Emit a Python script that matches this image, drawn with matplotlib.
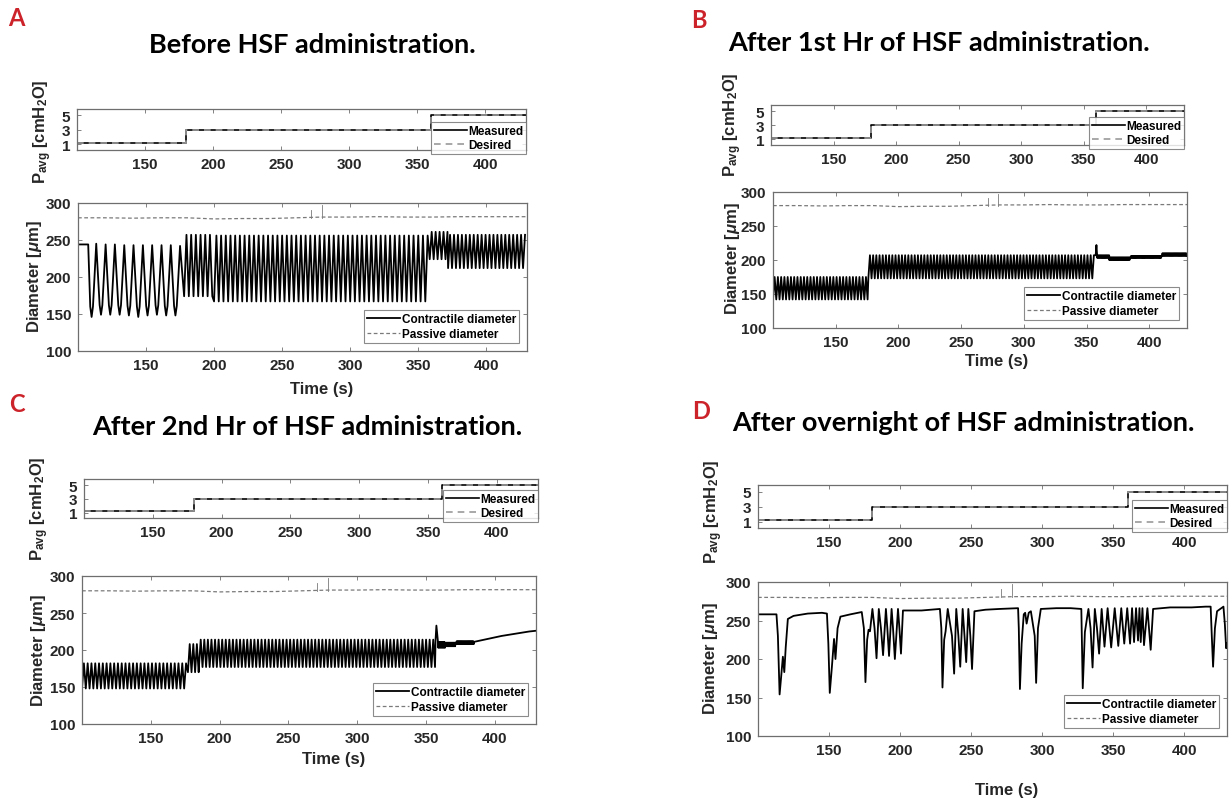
import numpy as np
import matplotlib
matplotlib.use("Agg")
import matplotlib.pyplot as plt

plt.rcParams['font.family'] = ['Liberation Sans', 'DejaVu Sans']
plt.rcParams['font.weight'] = 'bold'
plt.rcParams['mathtext.fontset'] = 'custom'
plt.rcParams['mathtext.rm'] = 'Liberation Sans:bold'
plt.rcParams['mathtext.it'] = 'Liberation Sans:bold:italic'
plt.rcParams['mathtext.bf'] = 'Liberation Sans:bold'

# ---------------- data ----------------
titles = ["Before HSF administration.", "After 1st Hr of HSF administration.",
          "After 2nd Hr of HSF administration.", "After overnight of HSF administration."]
letters = ["A", "B", "C", "D"]

# average pressure protocol (same in all panels)
p_time = [100, 180, 360, 430]
p_level = [1.2, 3, 5, 5]

# passive diameter (same in all panels)
passive_t = [100, 120, 140, 160, 180, 200, 220, 240, 260, 280, 300, 320, 340, 360, 380, 400, 430]
passive_v = [280, 280, 279.5, 280, 280, 278.5, 279, 279, 280, 281, 281, 281.5, 281, 281, 281.5, 281.5, 281.5]
spike_t = [271, 279]
spike_v = [291, 297]

# panel A: slow oscillations, then fast ones (start, end, period, trough, peak)
a_pre_t = [100, 107.5]
a_pre_v = [244, 244]
a_slow_t = [109.0, 110.0, 111.0, 113.4, 115.9, 116.9, 117.9, 120.3, 122.7, 123.7, 124.7, 127.1,
            129.6, 130.6, 131.6, 134.0, 136.4, 137.4, 138.4, 140.8, 143.3, 144.3, 145.3, 147.7,
            150.1, 151.1, 152.1, 154.5, 157.0, 158.0, 159.0, 161.4, 163.8, 164.8, 165.8, 168.2,
            170.6, 171.6, 172.6, 175.0]
a_slow_v = [160, 146, 160, 245, 162, 149, 162, 244, 162, 149, 162, 244, 162, 149, 162, 243,
            161, 148, 161, 243, 160, 146, 160, 243, 161, 148, 161, 243, 162, 149, 162, 243,
            161, 148, 161, 243, 161, 148, 161, 242]
a_segs = [(178, 200, 3.45, 174, 257), (200, 358, 3.45, 167, 256),
          (358.5, 372, 2.9, 224, 261), (372, 430, 2.9, 212, 257)]

# panel B
b_segs = [(100, 176, 2.6, 142, 175), (176, 357, 2.55, 173, 207),
          (358.5, 368, 0.9, 203, 207), (368, 385, 0.9, 200, 204),
          (385, 410, 0.9, 203, 206), (410, 430, 0.9, 206, 210)]
b_spike_t = [357.2, 357.8, 358.5]
b_spike_v = [207, 222, 204]

# panel C
c_segs = [(100, 177, 2.75, 148, 182), (177, 185, 2.6, 170, 208),
          (185, 357, 2.6, 177, 214), (359, 364, 0.8, 203, 211),
          (364, 372, 0.8, 205, 210), (372, 385, 0.8, 208, 212)]
c_spike_t = [357.0, 357.6, 359.0]
c_spike_v = [214, 233, 206]
c_tail_t = [385, 395, 405, 415, 425, 430]
c_tail_v = [211, 215, 219, 222, 225, 226]

# panel D: contractile diameter read vertex by vertex
d_t = [100, 113, 114, 115.2, 116.2, 117.5, 118.5, 119.5, 121, 125, 135, 145, 148.5, 149.5,
       150.5, 152, 153.5, 154.5, 156, 158, 165, 173, 174.5, 175.6, 176.8, 177.8, 178.8,
       180.5, 182, 183.4, 185, 186.5, 188, 190, 191, 192.2, 194, 195, 196.3, 198.5, 199.5,
       200.6, 202, 215, 228, 229, 229.8, 231, 232, 233.5, 236.5, 238, 239.5, 241, 242.3,
       244, 245.3, 246.5, 248, 249.4, 250.6, 252.3, 260, 270, 283, 283.5, 284.3, 285.5,
       287, 288, 289, 290.5, 292, 294.7, 295.7, 297, 299, 310, 320, 327.5, 328.5, 330,
       332.5, 334, 335.4, 337, 338.5, 340, 341.8, 343.8, 346, 348.5, 351, 353.5, 355.6,
       357.7, 359.8, 361.8, 363.2, 364.6, 366, 367.4, 368.4, 369.3, 370.5, 371.6, 374,
       376.3, 378, 390, 405, 415, 418.5, 419.3, 420.2, 421.5, 423, 426, 427.5, 428.5,
       429.4, 430]
d_v = [258, 258, 230, 154, 175, 203, 183, 215, 252, 256, 259, 260, 259, 220,
       156, 190, 226, 200, 240, 255, 258, 261, 240, 170, 225, 238, 236,
       265, 240, 201, 265, 240, 205, 265, 240, 204, 265, 240, 200, 265, 240,
       207, 263, 263, 265, 240, 163, 225, 236, 265, 230, 181, 265, 230, 190,
       265, 230, 196, 265, 230, 187, 262, 264, 265, 266, 240, 161, 220,
       258, 260, 246, 260, 262, 230, 169, 240, 265, 266, 266, 265, 162, 235,
       265, 240, 189, 265, 240, 207, 265, 216, 266, 215, 266, 217, 266,
       220, 266, 220, 266, 222, 266, 224, 266, 222, 266, 218, 266,
       212, 265, 267, 267, 268, 268, 230, 190, 240, 262, 266, 268, 245,
       214, 220]

# ---------------- helpers ----------------
def oscillation(segs):
    ts, vs = [], []
    for t0, t1, per, lo, hi in segs:
        t = np.arange(t0, t1, per / 2)
        v = np.where(np.arange(len(t)) % 2 == 0, lo, hi)
        ts.append(t)
        vs.append(v)
    return np.concatenate(ts), np.concatenate(vs)

W, H = 1231, 804
fig = plt.figure(figsize=(W / 100, H / 100), dpi=100)

def add_ax(l, t, r, b):
    return fig.add_axes([l / W, 1 - b / H, (r - l) / W, (b - t) / H])

def px_text(x, y, s, **kw):
    fig.text(x / W, 1 - y / H, s, **kw)

top_boxes = [(77, 110, 526, 151), (771, 106, 1184, 146), (84, 480, 538, 519), (758, 486, 1227, 529)]
bot_boxes = [(78, 204, 527, 352), (773, 193, 1187, 329), (82, 577, 536, 725), (758, 583, 1227, 737)]
title_xy = [(312, 45), (939, 43), (307, 427), (963, 423)]
letter_xy = [(16, 18), (699, 20), (17, 405), (701, 412)]
top_ylab_xy = [(43, 132), (733, 125), (40, 509), (714, 512)]
bot_ylab_xy = [(35, 277), (733, 259), (38, 651), (711, 659)]
xlab_xy = [(322, 390), (997, 362), (334, 760), (1007, 791)]

spine_c = '#6e6e6e'

def style(ax, yticks, ylim):
    ax.set_xlim(100, 430)
    ax.set_ylim(*ylim)
    ax.set_xticks(range(150, 401, 50))
    ax.set_yticks(yticks)
    ax.tick_params(direction='in', top=True, right=True, length=3, width=0.6,
                   color=spine_c, labelsize=11, labelcolor='#262626', pad=5)
    for s in ax.spines.values():
        s.set_color(spine_c)
        s.set_linewidth(0.9)

# contractile series per panel
cd_a_t, cd_a_v = oscillation(a_segs)
contr = [
    (np.concatenate([a_pre_t, a_slow_t, cd_a_t]), np.concatenate([a_pre_v, a_slow_v, cd_a_v])),
]
bt, bv = oscillation(b_segs)
cut = np.searchsorted(bt, 357)
contr.append((np.concatenate([bt[:cut], b_spike_t, bt[cut:]]),
              np.concatenate([bv[:cut], b_spike_v, bv[cut:]])))
ct, cv = oscillation(c_segs)
cut = np.searchsorted(ct, 357)
contr.append((np.concatenate([ct[:cut], c_spike_t, ct[cut:], c_tail_t]),
              np.concatenate([cv[:cut], c_spike_v, cv[cut:], c_tail_v])))
contr.append((np.array(d_t), np.array(d_v)))

for i in range(4):
    # top: pressure
    ax = add_ax(*top_boxes[i])
    ax.plot(p_time, p_level, drawstyle='steps-post', color='black', lw=1.2, label='Measured')
    ax.plot(p_time, p_level, drawstyle='steps-post', color='#9a9a9a', lw=1.2,
            ls=(0, (4, 3)), label='Desired')
    style(ax, [1, 3, 5], (0.2, 5.9))
    h_px = top_boxes[i][3] - top_boxes[i][1]
    leg = ax.legend(loc='lower right', bbox_to_anchor=(1, -4 / h_px), fontsize=8.5,
                    frameon=True, fancybox=False, borderpad=0.25, labelspacing=0.2,
                    handlelength=2.8, handletextpad=0.1, borderaxespad=0)
    leg.get_frame().set_edgecolor(spine_c)
    leg.get_frame().set_linewidth(0.8)

    # bottom: diameter
    ax2 = add_ax(*bot_boxes[i])
    t, v = contr[i]
    ax2.plot(t, v, color='black', lw=1.3, label='Contractile diameter')
    ax2.plot(passive_t, passive_v, color='#7a7a7a', lw=0.9, ls=(0, (3, 2)),
             label='Passive diameter')
    for st, sv in zip(spike_t, spike_v):
        ax2.plot([st, st], [280, sv], color='#7a7a7a', lw=0.6)
    style(ax2, [100, 150, 200, 250, 300], (100, 300))
    leg2 = ax2.legend(loc='lower right', fontsize=8.5, frameon=True, fancybox=False,
                      borderpad=0.25, labelspacing=0.2, handlelength=2.8,
                      handletextpad=0.1, borderaxespad=0.7)
    leg2.get_frame().set_edgecolor(spine_c)
    leg2.get_frame().set_linewidth(0.8)

    # texts
    px_text(*title_xy[i], titles[i], family='Lato', fontweight='bold', fontsize=19.5,
            ha='center', va='center', color='black')
    px_text(*letter_xy[i], letters[i], family='Lato', fontweight='bold', fontsize=17,
            ha='center', va='center', color='#cc2229')
    px_text(*top_ylab_xy[i], r'P$_{\mathrm{avg}}$ [cmH$_2$O]', fontsize=12, rotation=90,
            ha='center', va='center', color='#262626')
    px_text(*bot_ylab_xy[i], r'Diameter [$\mathit{\mu}$m]', fontsize=12, rotation=90,
            ha='center', va='center', color='#262626')
    px_text(*xlab_xy[i], 'Time (s)', fontsize=12, ha='center', va='center', color='#262626')

fig.savefig('out.png', dpi=100, facecolor='white')
